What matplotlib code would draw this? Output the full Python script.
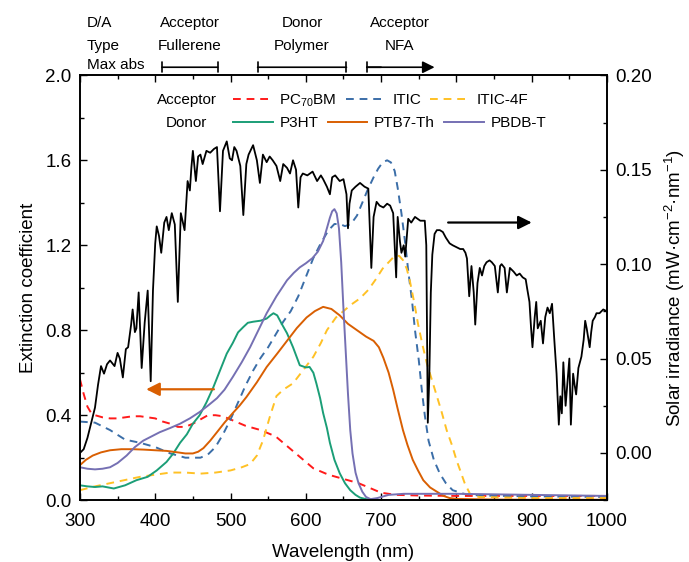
import numpy as np
import matplotlib.pyplot as plt
from matplotlib.ticker import MultipleLocator, FormatStrFormatter

plt.rcParams['font.family'] = ['Liberation Sans', 'DejaVu Sans']
plt.rcParams['mathtext.default'] = 'regular'

# acceptor absorption (extinction coefficient)
wl_pcbm = [300, 305, 310, 315, 320, 330, 340, 350, 360, 370, 380, 390, 400, 410, 420, 430,
           440, 450, 460, 470, 480, 490, 500, 510, 520, 530, 540, 550, 560, 570, 580, 590,
           600, 610, 620, 630, 640, 650, 660, 670, 680, 690, 700, 720, 750, 800, 900, 1000]
ext_pcbm = [0.57, 0.50, 0.44, 0.41, 0.40, 0.39, 0.385, 0.385, 0.39, 0.395, 0.395, 0.39, 0.385,
            0.37, 0.36, 0.345, 0.345, 0.36, 0.38, 0.40, 0.40, 0.395, 0.38, 0.365, 0.35, 0.34,
            0.33, 0.315, 0.30, 0.27, 0.24, 0.21, 0.18, 0.15, 0.135, 0.12, 0.11, 0.10, 0.09,
            0.08, 0.065, 0.05, 0.035, 0.025, 0.022, 0.02, 0.02, 0.02]

wl_itic = [300, 320, 340, 360, 380, 400, 420, 440, 460, 470, 480, 490, 500, 510, 520, 530,
           540, 550, 560, 570, 580, 590, 600, 610, 620, 630, 638, 645, 652, 660, 668, 675,
           682, 690, 696, 702, 708, 713, 718, 722, 727, 732, 736, 741, 745, 750, 754, 758,
           763, 770, 778, 786, 795, 810, 830, 900, 1000]
ext_itic = [0.37, 0.365, 0.33, 0.285, 0.27, 0.25, 0.22, 0.20, 0.20, 0.215, 0.25, 0.31, 0.38,
            0.46, 0.54, 0.61, 0.67, 0.72, 0.78, 0.84, 0.89, 0.96, 1.05, 1.14, 1.21, 1.27,
            1.30, 1.30, 1.29, 1.30, 1.34, 1.40, 1.46, 1.52, 1.56, 1.59, 1.60, 1.59, 1.55,
            1.47, 1.35, 1.21, 1.08, 0.94, 0.80, 0.66, 0.52, 0.40, 0.28, 0.19, 0.125, 0.08,
            0.047, 0.03, 0.022, 0.018, 0.015]

wl_itic4f = [300, 320, 340, 360, 380, 400, 420, 440, 460, 480, 500, 515, 526, 535, 543, 552,
             561, 570, 583, 596, 610, 620, 628, 640, 650, 660, 672, 683, 693, 702, 710, 718,
             724, 729, 734, 738, 744, 749, 755, 761, 768, 774, 780, 787, 794, 800, 806, 811,
             818, 830, 900, 1000]
ext_itic4f = [0.047, 0.065, 0.08, 0.095, 0.11, 0.12, 0.13, 0.13, 0.125, 0.13, 0.14, 0.155,
              0.17, 0.21, 0.28, 0.39, 0.49, 0.52, 0.55, 0.61, 0.675, 0.74, 0.80, 0.86, 0.89,
              0.92, 0.95, 0.99, 1.04, 1.09, 1.12, 1.15, 1.15, 1.13, 1.09, 1.035, 0.93, 0.83,
              0.73, 0.64, 0.56, 0.49, 0.42, 0.33, 0.26, 0.19, 0.13, 0.08, 0.03, 0.015, 0.01, 0.01]

# donor absorption
wl_p3ht = [300, 310, 320, 330, 345, 360, 375, 390, 402, 415, 424, 433, 442, 450, 459, 468,
           477, 486, 495, 503, 510, 517, 523, 530, 540, 548, 553, 557, 562, 568, 575, 583,
           592, 600, 605, 610, 614, 619, 623, 628, 632, 638, 645, 652, 659, 666, 672, 680,
           690, 700, 750, 800, 900, 1000]
ext_p3ht = [0.07, 0.065, 0.062, 0.065, 0.055, 0.07, 0.094, 0.11, 0.14, 0.18, 0.22, 0.27, 0.31,
            0.36, 0.40, 0.46, 0.53, 0.61, 0.69, 0.74, 0.79, 0.815, 0.835, 0.84, 0.845, 0.855,
            0.87, 0.88, 0.87, 0.83, 0.786, 0.72, 0.635, 0.625, 0.627, 0.60, 0.55, 0.48, 0.41,
            0.34, 0.27, 0.19, 0.127, 0.08, 0.047, 0.025, 0.012, 0.005, 0.002, 0.0, 0.0, 0.0,
            0.0, 0.0]

wl_ptb7 = [300, 308, 317, 328, 340, 355, 370, 385, 400, 415, 430, 440, 450, 457, 464, 473,
           482, 492, 503, 512, 521, 535, 548, 562, 575, 588, 601, 612, 623, 634, 645, 656,
           668, 680, 690, 697, 703, 710, 716, 722, 729, 735, 742, 749, 756, 765, 774, 783,
           791, 800, 850, 900, 1000]
ext_ptb7 = [0.165, 0.19, 0.21, 0.225, 0.235, 0.24, 0.24, 0.238, 0.235, 0.232, 0.225, 0.22,
            0.22, 0.228, 0.245, 0.28, 0.32, 0.365, 0.41, 0.445, 0.485, 0.555, 0.627, 0.69,
            0.75, 0.81, 0.86, 0.89, 0.91, 0.90, 0.87, 0.83, 0.80, 0.77, 0.75, 0.72, 0.67,
            0.60, 0.52, 0.43, 0.33, 0.26, 0.19, 0.14, 0.094, 0.06, 0.04, 0.02, 0.01, 0.006,
            0.003, 0.002, 0.002]

wl_pbdbt = [300, 310, 320, 330, 340, 350, 362, 373, 384, 395, 406, 420, 433, 446, 459, 470,
            482, 492, 503, 515, 526, 537, 548, 561, 575, 584, 592, 600, 609, 616, 623, 628,
            632, 635, 638, 641, 644, 647, 650, 653, 656, 659, 662, 666, 670, 675, 680, 686,
            695, 710, 730, 800, 900, 1000]
ext_pbdbt = [0.155, 0.148, 0.145, 0.148, 0.155, 0.175, 0.21, 0.25, 0.28, 0.30, 0.32, 0.34,
             0.36, 0.385, 0.415, 0.445, 0.48, 0.52, 0.58, 0.65, 0.72, 0.80, 0.88, 0.96, 1.035,
             1.07, 1.096, 1.115, 1.14, 1.17, 1.22, 1.28, 1.33, 1.36, 1.37, 1.35, 1.28, 1.12,
             0.90, 0.70, 0.50, 0.33, 0.22, 0.13, 0.08, 0.04, 0.015, 0.005, 0.01, 0.025, 0.03,
             0.03, 0.025, 0.02]

# solar spectrum (wavelength nm, irradiance mW cm-2 nm-1)
solar = np.array([
    [300, 0.000], [305, 0.002], [310, 0.008], [315, 0.016], [320, 0.024], [324, 0.036],
    [328, 0.046], [332, 0.042], [336, 0.047], [340, 0.049], [346, 0.046], [350, 0.053],
    [353, 0.050], [357, 0.040], [361, 0.055], [364, 0.056], [368, 0.068], [370, 0.076],
    [373, 0.064], [375, 0.066], [378, 0.085], [382, 0.045], [386, 0.069], [390, 0.086],
    [394, 0.038], [397, 0.086], [400, 0.111], [402, 0.120], [405, 0.115], [408, 0.106],
    [412, 0.122], [415, 0.125], [418, 0.118], [422, 0.127], [426, 0.121], [430, 0.080],
    [434, 0.127], [439, 0.118], [443, 0.144], [446, 0.139], [448, 0.151], [450, 0.160],
    [454, 0.144], [457, 0.157], [460, 0.158], [463, 0.153], [468, 0.160], [473, 0.159],
    [478, 0.161], [482, 0.162], [486, 0.128], [490, 0.160], [495, 0.165], [499, 0.156],
    [502, 0.155], [505, 0.162], [508, 0.160], [513, 0.152], [517, 0.126], [521, 0.153],
    [524, 0.158], [530, 0.163], [535, 0.155], [539, 0.143], [543, 0.158], [548, 0.154],
    [552, 0.157], [556, 0.155], [561, 0.152], [566, 0.144], [570, 0.153], [575, 0.151],
    [579, 0.148], [583, 0.155], [587, 0.150], [590, 0.130], [593, 0.146], [596, 0.148],
    [602, 0.147], [609, 0.149], [615, 0.144], [620, 0.147], [623, 0.145], [628, 0.141],
    [632, 0.137], [635, 0.146], [639, 0.147], [645, 0.144], [650, 0.145], [654, 0.137],
    [656, 0.119], [658, 0.132], [661, 0.139], [666, 0.141], [672, 0.143], [678, 0.141],
    [683, 0.140], [687, 0.098], [690, 0.125], [694, 0.133], [698, 0.131], [703, 0.130],
    [708, 0.132], [712, 0.131], [716, 0.127], [720, 0.093], [722, 0.125], [725, 0.112],
    [727, 0.106], [730, 0.110], [732, 0.104], [736, 0.124], [740, 0.122], [745, 0.125],
    [752, 0.123], [758, 0.123], [760, 0.110], [762, 0.016], [764, 0.040], [766, 0.085],
    [768, 0.105], [771, 0.116], [774, 0.118], [778, 0.118], [782, 0.117], [786, 0.114],
    [791, 0.111], [795, 0.110], [800, 0.109], [805, 0.108], [809, 0.108], [812, 0.106],
    [814, 0.103], [817, 0.083], [820, 0.099], [823, 0.085], [825, 0.068], [828, 0.090],
    [831, 0.098], [834, 0.094], [837, 0.099], [840, 0.101], [844, 0.102], [847, 0.101],
    [851, 0.099], [855, 0.085], [858, 0.099], [860, 0.100], [864, 0.098], [867, 0.085],
    [871, 0.098], [876, 0.096], [880, 0.094], [884, 0.095], [888, 0.093], [892, 0.092],
    [894, 0.087], [897, 0.080], [899, 0.067], [901, 0.056], [904, 0.072], [906, 0.080],
    [908, 0.066], [912, 0.070], [915, 0.058], [918, 0.072], [921, 0.077], [924, 0.074],
    [927, 0.079], [930, 0.060], [933, 0.042], [936, 0.015], [938, 0.030], [940, 0.021],
    [942, 0.048], [945, 0.025], [948, 0.040], [950, 0.050], [952, 0.015], [955, 0.042],
    [957, 0.036], [959, 0.031], [962, 0.045], [966, 0.051], [969, 0.060], [971, 0.070],
    [973, 0.066], [975, 0.061], [977, 0.056], [979, 0.064], [981, 0.070], [984, 0.072],
    [986, 0.074], [990, 0.074], [995, 0.076], [1000, 0.075]])
solar_wl, solar_irr = solar.T

c_red, c_blue, c_yellow = '#ff1a1a', '#3b6ea8', '#ffc125'
c_green, c_orange, c_purple = '#1b9e77', '#d95f02', '#7570b3'
fs = 13.5

fig = plt.figure(figsize=(6.89, 5.62), dpi=100)
ax = fig.add_axes([0.116, 0.110, 0.765, 0.756])
ax2 = ax.twinx()

dash = (4, 3)
l1, = ax.plot(wl_pcbm, ext_pcbm, color=c_red, lw=1.4, dashes=dash)
l2, = ax.plot(wl_itic, ext_itic, color=c_blue, lw=1.4, dashes=dash)
l3, = ax.plot(wl_itic4f, ext_itic4f, color=c_yellow, lw=1.4, dashes=dash)
l4, = ax.plot(wl_p3ht, ext_p3ht, color=c_green, lw=1.4)
l5, = ax.plot(wl_ptb7, ext_ptb7, color=c_orange, lw=1.4)
l6, = ax.plot(wl_pbdbt, ext_pbdbt, color=c_purple, lw=1.4)

ax2.plot(solar_wl, solar_irr, color='black', lw=1.3)

ax.set_xlim(300, 1000)
ax.set_ylim(0, 2.0)
ax2.set_ylim(-0.025, 0.20)
ax.xaxis.set_major_locator(MultipleLocator(100))
ax.xaxis.set_minor_locator(MultipleLocator(50))
ax.yaxis.set_major_locator(MultipleLocator(0.4))
ax.yaxis.set_minor_locator(MultipleLocator(0.2))
ax.yaxis.set_major_formatter(FormatStrFormatter('%.1f'))
ax2.yaxis.set_major_locator(MultipleLocator(0.05))
ax2.yaxis.set_minor_locator(MultipleLocator(0.025))
ax2.yaxis.set_major_formatter(FormatStrFormatter('%.2f'))
ax2.set_yticks([0, 0.05, 0.10, 0.15, 0.20])

ax.tick_params(which='both', direction='in', top=True, right=False, labelsize=fs, width=1)
ax.tick_params(which='major', length=5)
ax.tick_params(which='minor', length=3)
ax.tick_params(axis='x', which='major', pad=9)
ax.tick_params(axis='y', which='major', pad=6)
ax2.tick_params(which='both', direction='in', labelsize=fs, width=1)
ax2.tick_params(which='major', length=5, pad=6)
ax2.tick_params(which='minor', length=3)
for a in (ax, ax2):
    for s in a.spines.values():
        s.set_linewidth(1.2)

ax.set_xlabel('Wavelength (nm)', fontsize=fs, labelpad=10)
ax.set_ylabel('Extinction coefficient', fontsize=fs, labelpad=6)
ax2.set_ylabel('Solar irradiance (mW·cm$^{-2}$·nm$^{-1}$)', fontsize=fs, labelpad=8)

# legend in two rows
ax.text(0.203, 0.941, 'Acceptor', transform=ax.transAxes, ha='center', va='center', fontsize=11)
ax.text(0.203, 0.887, 'Donor', transform=ax.transAxes, ha='center', va='center', fontsize=11)
leg_kw = dict(ncol=3, loc='center left', frameon=False, fontsize=11, handlelength=2.6,
              handletextpad=0.45, columnspacing=0.6, borderpad=0, borderaxespad=0)
leg1 = ax.legend([l1, l2, l3], ['PC$_{70}$BM', 'ITIC', 'ITIC-4F'],
                 bbox_to_anchor=(0.290, 0.941), **leg_kw)
ax.add_artist(leg1)
ax.legend([l4, l5, l6], ['P3HT', 'PTB7-Th', 'PBDB-T'], bbox_to_anchor=(0.290, 0.887), **leg_kw)

# axis arrows
ax.annotate('', xy=(388, 0.522), xytext=(478, 0.522),
            arrowprops=dict(arrowstyle='-|>', color=c_orange, lw=1.6, mutation_scale=20,
                            shrinkA=0, shrinkB=0))
ax.annotate('', xy=(900, 1.307), xytext=(789, 1.307),
            arrowprops=dict(arrowstyle='-|>', color='black', lw=1.6, mutation_scale=20,
                            shrinkA=0, shrinkB=0))

# absorption range header above the plot
tr = ax.get_xaxis_transform()
for y, s in [(1.122, 'D/A'), (1.068, 'Type'), (1.024, 'Max abs')]:
    ax.text(309, y, s, transform=tr, ha='left', va='center', fontsize=11)
for x, top, bot in [(446, 'Acceptor', 'Fullerene'), (595, 'Donor', 'Polymer'),
                    (725, 'Acceptor', 'NFA')]:
    ax.text(x, 1.122, top, transform=tr, ha='center', va='center', fontsize=11)
    ax.text(x, 1.068, bot, transform=tr, ha='center', va='center', fontsize=11)

yb = 1.019
for x0, x1 in [(409, 483), (536, 654)]:
    ax.annotate('', xy=(x1, yb), xytext=(x0, yb), xycoords=tr, textcoords=tr,
                annotation_clip=False,
                arrowprops=dict(arrowstyle='|-|, widthA=0.35, widthB=0.35', lw=1.2,
                                shrinkA=0, shrinkB=0))
ax.annotate('', xy=(771, yb), xytext=(681, yb), xycoords=tr, textcoords=tr,
            annotation_clip=False,
            arrowprops=dict(arrowstyle='-|>', lw=1.2, color='black', mutation_scale=18,
                            shrinkA=0, shrinkB=0))
ax.annotate('', xy=(700, yb), xytext=(681, yb), xycoords=tr, textcoords=tr,
            annotation_clip=False,
            arrowprops=dict(arrowstyle='|-|, widthA=0.35, widthB=0', lw=1.2,
                            shrinkA=0, shrinkB=0))

plt.savefig('out.png', dpi=100)
